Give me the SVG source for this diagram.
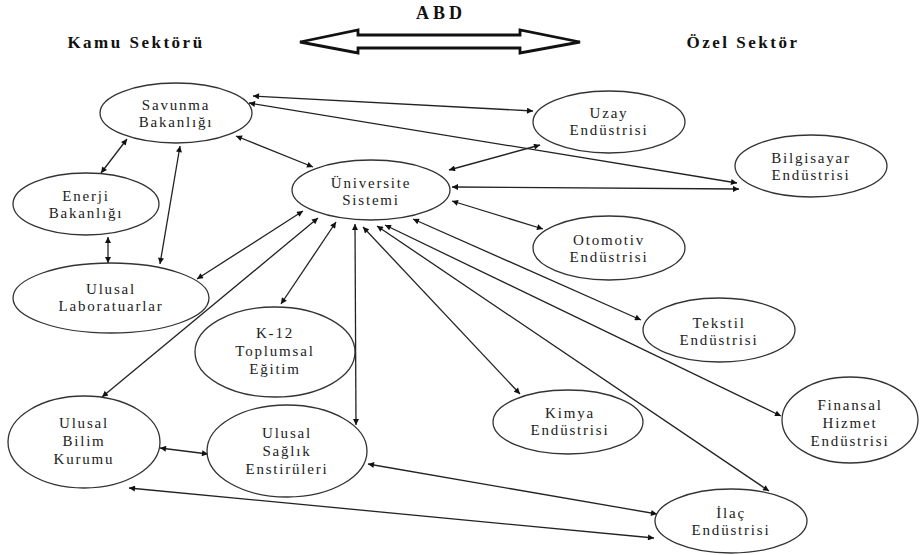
<svg xmlns="http://www.w3.org/2000/svg" width="920" height="555" viewBox="0 0 920 555">
<style>
.n ellipse{fill:#fff;stroke:#333;stroke-width:1.3}
.n text{font-family:"Liberation Serif","Times New Roman",serif;font-size:15px;letter-spacing:1.8px;fill:#222;text-anchor:middle}
.h{font-family:"Liberation Serif","Times New Roman",serif;font-size:17px;font-weight:bold;letter-spacing:2.5px;fill:#111;text-anchor:middle}
#edges line{stroke:#222;stroke-width:1.3;marker-start:url(#a);marker-end:url(#a)}
</style>
<defs>
<marker id="a" viewBox="0 0 10 10" refX="10" refY="5" markerWidth="9" markerHeight="6" markerUnits="userSpaceOnUse" orient="auto-start-reverse"><path d="M0,0 L10,5 L0,10 z" fill="#111"/></marker>
</defs>
<rect width="920" height="555" fill="#fff"/>
<g id="header">
<text class="h" x="441" y="19" style="font-size:18px;letter-spacing:4px">ABD</text>
<text class="h" x="136" y="48">Kamu Sektörü</text>
<text class="h" x="743" y="48">Özel Sektör</text>
<polygon points="300,42 358,30 358,35 520,35 520,30 580,42 520,53 520,48 358,48 358,53" fill="#fff" stroke="#111" stroke-width="2.8" stroke-linejoin="miter"/>
</g>
<g id="edges">
<line x1="253" y1="96" x2="533" y2="111"/>
<line x1="249" y1="103" x2="737" y2="183"/>
<line x1="452" y1="187" x2="739" y2="189"/>
<line x1="449" y1="170" x2="540" y2="145"/>
<line x1="452" y1="201" x2="543" y2="229"/>
<line x1="236" y1="136" x2="313" y2="167"/>
<line x1="127" y1="139" x2="101" y2="173"/>
<line x1="180" y1="146" x2="160" y2="264"/>
<line x1="108" y1="237" x2="108" y2="263"/>
<line x1="303" y1="211" x2="197" y2="279"/>
<line x1="318" y1="218" x2="102" y2="397"/>
<line x1="336" y1="222" x2="281" y2="304"/>
<line x1="355" y1="224" x2="356" y2="425"/>
<line x1="363" y1="227" x2="520" y2="394"/>
<line x1="377" y1="226" x2="769" y2="491"/>
<line x1="385" y1="225" x2="781" y2="416"/>
<line x1="413" y1="219" x2="641" y2="320"/>
<line x1="160" y1="448" x2="208" y2="454"/>
<line x1="368" y1="464" x2="657" y2="514"/>
<line x1="129" y1="488" x2="654" y2="538"/>
</g>
<g id="savunma" class="n"><ellipse cx="176" cy="113" rx="76" ry="30"/><text x="176" y="110">Savunma</text><text x="176" y="127">Bakanlığı</text></g>
<g id="enerji" class="n"><ellipse cx="86" cy="204" rx="73" ry="31"/><text x="86" y="201">Enerji</text><text x="86" y="218">Bakanlığı</text></g>
<g id="lab" class="n"><ellipse cx="111" cy="298" rx="98" ry="35"/><text x="111" y="294">Ulusal</text><text x="111" y="311">Laboratuarlar</text></g>
<g id="universite" class="n"><ellipse cx="371" cy="190" rx="79" ry="30"/><text x="371" y="188">Üniversite</text><text x="371" y="205">Sistemi</text></g>
<g id="k12" class="n"><ellipse cx="275" cy="352" rx="80" ry="45"/><text x="275" y="338">K-12</text><text x="275" y="356">Toplumsal</text><text x="275" y="374">Eğitim</text></g>
<g id="bilim" class="n"><ellipse cx="84" cy="442" rx="76" ry="46"/><text x="84" y="428">Ulusal</text><text x="84" y="446">Bilim</text><text x="84" y="464">Kurumu</text></g>
<g id="saglik" class="n"><ellipse cx="287" cy="451" rx="80" ry="46"/><text x="287" y="438">Ulusal</text><text x="287" y="456">Sağlık</text><text x="287" y="474">Enstirüleri</text></g>
<g id="uzay" class="n"><ellipse cx="609" cy="122" rx="76" ry="31"/><text x="609" y="118">Uzay</text><text x="609" y="135">Endüstrisi</text></g>
<g id="bilgisayar" class="n"><ellipse cx="811" cy="166" rx="76" ry="31"/><text x="811" y="163">Bilgisayar</text><text x="811" y="180">Endüstrisi</text></g>
<g id="otomotiv" class="n"><ellipse cx="609" cy="248" rx="76" ry="32"/><text x="609" y="245">Otomotiv</text><text x="609" y="262">Endüstrisi</text></g>
<g id="tekstil" class="n"><ellipse cx="719" cy="330" rx="76" ry="32"/><text x="719" y="328">Tekstil</text><text x="719" y="345">Endüstrisi</text></g>
<g id="kimya" class="n"><ellipse cx="568" cy="422" rx="75" ry="32"/><text x="570" y="418">Kimya</text><text x="570" y="435">Endüstrisi</text></g>
<g id="finansal" class="n"><ellipse cx="850" cy="420" rx="68" ry="43"/><text x="850" y="410">Finansal</text><text x="850" y="428">Hizmet</text><text x="850" y="446">Endüstrisi</text></g>
<g id="ilac" class="n"><ellipse cx="731" cy="521" rx="76" ry="32"/><text x="731" y="518">İlaç</text><text x="731" y="535">Endüstrisi</text></g>
</svg>
